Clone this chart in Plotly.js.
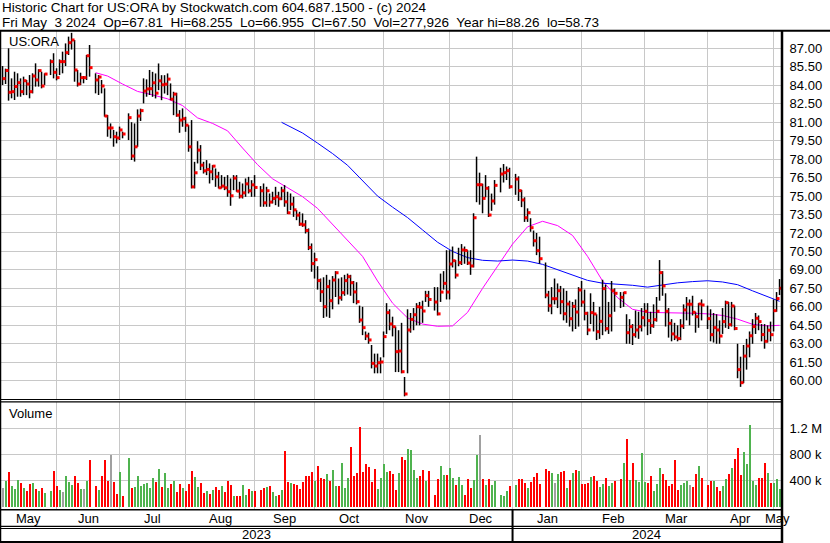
<!DOCTYPE html>
<html><head><meta charset="utf-8">
<script src="https://cdn.plot.ly/plotly-3.0.1.min.js"></script>
<style>html,body{margin:0;padding:0;background:#fff;overflow:hidden}#chart{width:830px;height:543px}</style>
</head><body><div id="chart"></div>
<script>
// ---------------- DATA ----------------
const symbol = 'US:ORA';
const headerLine1 = 'Historic Chart for US:ORA by Stockwatch.com 604.687.1500 - (c) 2024';
const headerLine2 = 'Fri May\u00a0 3 2024\u00a0 Op=67.81\u00a0 Hi=68.255\u00a0 Lo=66.955\u00a0 Cl=67.50\u00a0 Vol=277,926\u00a0 Year hi=88.26\u00a0 lo=58.73';
const startDate = '2023-05-08';
const endDate = '2024-05-03';
const holidays = ['2023-05-29','2023-06-19','2023-07-04','2023-09-04','2023-11-23','2023-12-25','2024-01-01','2024-01-15','2024-02-19','2024-03-29'];

const close = [
 84.54,85.2,83.43,83.48,83.9,84.21,83.48,84.37,84.1,83.48,84.75,84.43,85.19,83.94,84.91,85.92,85.05,
 84.62,85.92,85.92,86.65,87.46,87.68,85.24,84.1,84.62,84.62,86.4,85.43,84.43,84.67,83.94,81.5,80.53,80.53,79.82,79.72,80.37,
 80.04,81.37,78.25,79.0,81.5,81.94,83.53,83.7,83.72,84.2,83.36,84.36,84.04,84.09,84.5,82.87,83.28,81.57,81.17,81.28,
 80.76,79.0,75.75,76.89,78.73,77.51,77.05,77.16,76.97,77.43,76.56,75.67,75.81,75.67,75.35,75.02,76.46,75.4,74.99,75.26,75.99,75.43,75.91,
 75.7,75.43,74.45,75.43,74.51,74.8,74.94,74.78,75.43,74.53,73.64,74.34,73.88,73.45,72.72,72.66,72.2,70.82,69.51,69.83,
 68.13,67.23,66.01,67.64,66.5,68.18,68.77,66.74,67.15,68.13,68.45,67.96,67.21,66.42,64.93,64.31,63.63,63.31,61.41,61.19,61.46,61.52,
 63.58,65.53,64.61,64.39,62.36,62.41,60.73,58.92,64.12,64.98,65.36,66.01,65.96,65.66,66.91,66.6,66.39,65.43,67.2,67.91,67.2,
 69.48,69.75,68.58,69.59,70.62,70.58,69.56,69.32,73.24,75.92,75.92,74.81,75.63,73.46,74.6,75.87,76.79,76.9,77.06,75.76,
 76.38,75.44,74.68,73.24,73.65,72.43,71.37,70.56,69.91,66.96,66.09,66.66,66.66,67.31,66.42,65.44,66.23,65.04,66.04,65.58,67.37,
 66.39,65.47,64.12,65.53,65.42,63.98,64.82,67.48,64.23,65.28,67.31,67.1,66.77,67.15,63.9,64.39,63.74,64.12,64.39,65.12,
 65.64,64.88,64.47,64.96,65.64,68.78,67.7,65.64,64.66,63.8,63.55,63.42,64.45,65.75,66.21,66.21,65.56,65.2,66.23,66.15,
 65.04,63.74,64.31,64.12,63.63,64.8,66.34,64.55,66.07,64.24,60.9,59.84,62.0,62.82,63.65,64.4,65.07,64.8,63.75,63.2,64.1,63.74,
 65.69,66.67,67.5
];
const high = [
 85.56,85.35,87.0,84.56,85.1,84.97,84.56,84.7,84.43,84.83,84.97,85.78,85.3,85.1,84.97,86.1,86.6,
 85.38,86.1,86.73,87.4,87.95,88.26,87.68,85.24,85.02,84.75,86.46,87.27,84.97,84.83,84.43,83.75,81.58,80.9,80.37,80.23,80.64,
 80.23,81.72,81.0,80.9,82.04,82.1,84.56,84.48,85.24,85.09,84.96,85.77,84.82,84.82,84.96,84.15,83.47,83.39,81.98,82.12,
 81.44,80.76,81.17,77.78,79.46,79.14,77.78,77.92,77.65,77.51,77.24,76.97,76.7,76.56,76.7,76.43,76.7,76.7,76.16,76.02,76.43,76.56,76.29,
 76.7,75.81,76.02,75.75,75.21,75.35,75.75,75.35,75.75,75.89,75.35,75.21,74.94,73.86,73.72,73.59,73.04,72.37,71.15,70.4,
 69.3,68.3,68.4,68.6,68.2,68.5,68.9,68.3,68.4,68.6,68.7,68.6,68.1,68.0,66.1,66.0,64.0,63.9,62.9,62.2,62.2,61.9,
 64.0,66.3,65.8,65.2,64.4,64.1,64.7,60.3,65.8,65.5,65.9,66.3,66.4,66.5,67.3,67.3,67.6,67.6,68.7,68.9,70.6,
 70.6,70.9,69.8,70.8,71.1,70.9,70.6,70.6,73.6,78.2,76.9,76.0,76.7,75.8,75.2,76.3,77.3,77.6,77.4,77.3,
 76.8,76.6,75.5,74.9,74.0,73.2,72.2,72.0,71.7,69.6,67.3,67.6,68.3,67.9,67.7,67.5,67.3,66.5,66.4,66.6,67.6,
 68.1,67.4,65.6,67.1,66.4,65.4,66.0,68.2,67.8,66.4,68.1,67.5,67.2,67.2,65.4,65.0,64.6,65.7,65.6,65.9,
 66.3,66.3,65.6,66.2,66.8,69.8,68.9,67.1,65.9,65.0,64.7,64.5,65.0,66.2,66.8,66.6,66.9,65.6,66.3,66.6,
 66.1,65.8,65.5,65.4,64.9,65.9,66.5,66.4,66.4,66.1,63.0,61.95,62.9,63.4,64.0,65.0,65.5,65.3,64.6,64.6,64.5,64.8,
 66.6,67.2,68.255
];
const low = [
 84.02,84.1,82.75,82.94,82.8,83.07,83.07,83.2,83.2,82.94,83.34,83.89,83.89,83.75,84.02,84.83,84.56,
 84.4,84.83,84.97,85.56,86.46,86.9,84.29,83.89,84.02,84.16,84.43,84.7,83.34,83.21,83.34,81.45,79.82,79.69,79.01,79.28,79.55,
 79.69,79.55,77.93,77.8,79.0,81.1,82.53,83.07,83.21,83.06,82.93,83.6,82.79,83.33,83.2,82.79,81.57,81.44,80.14,80.63,
 80.22,78.6,75.62,75.62,77.65,77.11,76.83,76.7,76.02,76.29,75.75,75.62,75.62,75.48,74.94,74.21,75.48,75.35,74.8,74.8,74.94,75.21,74.94,
 74.94,74.13,74.13,74.13,74.13,74.4,74.26,74.13,74.67,74.13,73.54,73.86,73.31,73.04,72.58,72.5,71.96,70.61,68.85,68.3,
 67.4,66.4,65.1,65.2,65.1,65.8,66.8,66.2,66.5,66.9,67.0,66.9,66.3,66.2,64.7,63.7,63.3,63.0,61.0,60.6,60.6,60.6,
 61.9,63.8,64.1,63.6,60.7,60.7,60.6,58.73,60.6,63.9,64.1,64.5,64.5,64.7,66.4,66.0,65.7,65.3,66.4,67.4,66.6,
 66.6,69.2,68.3,69.3,69.4,69.5,69.4,68.6,69.2,74.5,74.3,73.6,74.9,73.3,73.8,74.3,75.3,76.1,76.3,75.6,
 75.1,74.6,74.1,72.9,72.9,72.1,70.9,70.2,69.5,66.7,65.6,65.4,66.2,65.9,65.4,64.9,64.7,64.4,64.0,64.2,64.4,
 66.0,64.9,63.7,64.6,64.0,63.3,63.4,63.7,64.0,63.8,64.0,65.6,65.9,66.0,63.0,63.0,62.9,63.5,63.4,64.0,
 64.4,63.7,63.8,64.3,64.8,66.5,66.9,64.4,63.5,63.2,63.3,63.2,63.3,64.2,64.9,64.5,65.3,63.9,64.3,64.9,
 64.2,63.2,63.1,63.0,63.0,63.8,64.3,64.2,64.4,64.1,60.2,59.5,59.8,60.9,61.9,63.0,63.8,64.1,63.2,62.6,63.1,63.2,
 64.0,65.6,66.955
];
const volumeThousands = [
 296,397,535,321,275,408,367,290,245,352,367,275,245,290,214,245,550,
 321,260,229,474,382,336,474,367,275,275,397,719,321,260,474,719,397,795,382,199,535,
 168,749,290,306,474,321,352,367,290,443,382,581,306,520,290,352,397,229,352,290,
 245,352,550,459,306,367,214,245,199,260,306,260,321,229,397,336,168,168,168,336,183,275,245,
 245,260,290,306,321,229,168,183,260,856,382,367,352,336,275,382,474,474,535,397,
 627,443,428,504,397,566,321,321,673,290,443,917,474,520,1223,535,657,612,382,581,275,443,
 657,535,550,504,260,520,764,719,887,871,566,448,479,566,397,550,183,428,627,489,489,
 596,443,336,459,336,183,428,290,413,795,1101,428,336,428,336,397,183,168,245,321,
 336,428,428,367,290,382,459,520,352,581,550,520,367,504,535,550,290,413,520,566,550,
 352,352,367,459,474,397,306,352,443,321,367,397,428,673,1040,413,673,413,377,826,
 382,367,474,245,352,596,504,413,321,352,719,260,336,367,397,336,306,504,627,443,
 336,397,397,306,245,321,428,504,596,734,902,489,841,657,1254,397,336,443,443,673,520,367,
 367,428,278
];

// moving averages (weekly samples)
const maFastDates = ['2023-06-20','2023-06-26','2023-07-03','2023-07-10','2023-07-17','2023-07-24','2023-07-31','2023-08-07','2023-08-14','2023-08-21','2023-08-28','2023-09-04','2023-09-11','2023-09-18','2023-09-25','2023-10-02','2023-10-09','2023-10-16','2023-10-23','2023-10-30','2023-11-06','2023-11-13','2023-11-20','2023-11-27','2023-12-04','2023-12-11','2023-12-18','2023-12-25','2024-01-01','2024-01-08','2024-01-15','2024-01-22','2024-01-29','2024-02-05','2024-02-12','2024-02-19','2024-02-26','2024-03-04','2024-03-11','2024-03-18','2024-03-25','2024-04-01','2024-04-08','2024-04-15','2024-04-22','2024-04-29','2024-05-03'];
const maFastValues = [85.02,84.75,84.1,83.5,83.22,82.9,82.35,81.35,80.9,80.3,78.9,77.55,76.4,75.65,74.95,74.0,72.7,71.4,70.1,68.1,66.3,65.1,64.6,64.42,64.45,65.55,67.5,69.3,71.1,72.5,72.95,72.6,71.8,70.1,68.1,66.75,65.8,65.55,65.53,65.55,65.48,65.43,65.3,65.0,64.58,64.45,64.5];
const maSlowDates = ['2023-09-14','2023-09-18','2023-09-25','2023-10-02','2023-10-09','2023-10-16','2023-10-23','2023-10-30','2023-11-06','2023-11-13','2023-11-20','2023-11-27','2023-12-04','2023-12-11','2023-12-18','2023-12-25','2024-01-01','2024-01-08','2024-01-15','2024-01-22','2024-01-29','2024-02-05','2024-02-12','2024-02-19','2024-02-26','2024-03-04','2024-03-11','2024-03-18','2024-03-25','2024-04-01','2024-04-08','2024-04-15','2024-04-22','2024-04-29','2024-05-03'];
const maSlowValues = [80.99,80.75,80.12,79.3,78.45,77.5,76.25,75.0,74.1,73.25,72.25,71.25,70.5,70.0,69.78,69.72,69.8,69.72,69.45,69.0,68.6,68.15,67.92,67.85,67.75,67.6,67.8,67.95,68.05,68.12,68.02,67.8,67.3,66.8,66.45];

const monthStarts = ['2023-05-01','2023-06-01','2023-07-01','2023-08-01','2023-09-01','2023-10-01','2023-11-01','2023-12-01','2024-01-01','2024-02-01','2024-03-01','2024-04-01','2024-05-01'];
const monthLabels = ['May','Jun','Jul','Aug','Sep','Oct','Nov','Dec','Jan','Feb','Mar','Apr','May'];
const yearStarts = ['2023-05-01','2024-01-01'];
const yearLabels = ['2023','2024'];
const priceTicks = [60.00,61.50,63.00,64.50,66.00,67.50,69.00,70.50,72.00,73.50,75.00,76.50,78.00,79.50,81.00,82.50,84.00,85.50,87.00];
const volumeTicks = [400000,800000,1200000];
const volumeTickText = ['400 k','800 k','1.2 M'];

// ---------------- CALENDAR (weekday slots) ----------------
const DAY = 86400000;
function parse(d){const p=d.split('-').map(Number);return Date.UTC(p[0],p[1]-1,p[2]);}
const t0 = parse(startDate);
function slotOf(d){const days=Math.round((parse(d)-t0)/DAY);const w=Math.floor(days/7);const dow=days-7*w;return w*5+Math.min(dow,4);}
function fmt(t){return new Date(t).toISOString().slice(0,10);}
const tradingDates=[];
for(let t=t0;t<=parse(endDate);t+=DAY){const dw=new Date(t).getUTCDay();if(dw===0||dw===6)continue;const s=fmt(t);if(holidays.includes(s))continue;tradingDates.push(s);}
if(close.length!==tradingDates.length||high.length!==tradingDates.length||low.length!==tradingDates.length||volumeThousands.length!==tradingDates.length){
  throw new Error('length mismatch dates='+tradingDates.length+' close='+close.length+' high='+high.length+' low='+low.length+' vol='+volumeThousands.length);
}
const xs = tradingDates.map(slotOf);

// ---------------- GEOMETRY ----------------
const W=830,H=543, ML=0, MR=49, MT=31, MB=34;
const PW=W-ML-MR, PH=H-MT-MB;
const XMIN=-0.85, XMAX=XMIN+PW/3;
const PX = px => (px-ML)/PW;
const PY = py => (H-MB-py)/PH;

// ---------------- TRACES ----------------
const hlX=[], hlY=[];
xs.forEach((x,i)=>{hlX.push(x,x,null);hlY.push(low[i],high[i],null);});
const volColors = close.map((c,i)=> i===0 ? '#a0a0a0' : (c>close[i-1] ? '#4fb34f' : (c<close[i-1] ? '#ff0000' : '#a0a0a0')));

const traces = [
 {type:'scatter',mode:'lines',x:maFastDates.map(slotOf),y:maFastValues,line:{color:'#ff00ff',width:1},xaxis:'x',yaxis:'y',hoverinfo:'skip'},
 {type:'scatter',mode:'lines',x:maSlowDates.map(slotOf),y:maSlowValues,line:{color:'#0000ff',width:1},xaxis:'x',yaxis:'y',hoverinfo:'skip'},
 {type:'scatter',mode:'lines',x:hlX,y:hlY,line:{color:'#000000',width:1.5},connectgaps:false,xaxis:'x',yaxis:'y',hoverinfo:'skip'},
 {type:'scatter',mode:'markers',x:xs.map(x=>x+0.5),y:close,marker:{symbol:'square',size:3,color:'#ff0000',line:{width:0}},xaxis:'x',yaxis:'y',hoverinfo:'skip'},
 {type:'bar',x:xs,y:volumeThousands.map(v=>v*1000),width:0.67,marker:{color:volColors,line:{width:0}},xaxis:'x',yaxis:'y2',hoverinfo:'skip'}
];

// month gridlines & labels
const gridSlots = monthStarts.slice(1).map(slotOf);
const annotations = [];
const font13 = {family:'Liberation Sans, Arial, sans-serif', size:13, color:'#000000'};
const fontHeader = {family:'Liberation Sans, Arial, sans-serif', size:13.5, color:'#000000'};
monthLabels.forEach((m,k)=>{
  const a = Math.max(XMIN, slotOf(monthStarts[k]));
  const b = k+1<monthStarts.length ? slotOf(monthStarts[k+1]) : XMAX;
  annotations.push({xref:'x',yref:'paper',x:(a+Math.min(b,XMAX))/2,y:PY(518.5),text:m,showarrow:false,xanchor:'center',yanchor:'middle',font:font13});
});
yearLabels.forEach((yl,k)=>{
  const a = Math.max(XMIN, slotOf(yearStarts[k]));
  const b = k+1<yearStarts.length ? slotOf(yearStarts[k+1]) : XMAX;
  annotations.push({xref:'x',yref:'paper',x:(a+b)/2,y:PY(534.5),text:yl,showarrow:false,xanchor:'center',yanchor:'middle',font:font13});
});
annotations.push({xref:'paper',yref:'paper',x:PX(1),y:PY(7.4),text:headerLine1,showarrow:false,xanchor:'left',yanchor:'middle',borderpad:0,font:fontHeader});
annotations.push({xref:'paper',yref:'paper',x:PX(1),y:PY(22.6),text:headerLine2,showarrow:false,xanchor:'left',yanchor:'middle',borderpad:0,font:fontHeader});
annotations.push({xref:'paper',yref:'paper',x:PX(7),y:PY(41.5),text:symbol,showarrow:false,xanchor:'left',yanchor:'middle',font:font13});
annotations.push({xref:'paper',yref:'paper',x:PX(7),y:PY(413.5),text:'Volume',showarrow:false,xanchor:'left',yanchor:'middle',font:font13});

const yearDivider = slotOf(yearStarts[1]);
const ln = (x0,y0,x1,y1,w)=>({type:'line',xref:'paper',yref:'paper',x0:PX(x0),y0:PY(y0),x1:PX(x1),y1:PY(y1),line:{color:'#000000',width:w},layer:'above'});
const shapes = [
 ln(0,30.8,830,30.8,2),
 ln(0.5,30,0.5,543,1.5),
 ln(782,30,782,543,2.5),
 ln(0,399.5,781,399.5,1.2),
 ln(0,401.8,781,401.8,1.2),
 ln(0,509.8,781,509.8,1.5),
 ln(0,526.3,781,526.3,1.2),
 ln(0,528.5,781,528.5,1.2),
 ln(0,542,783,542,2),
 {type:'line',xref:'x',yref:'paper',x0:yearDivider,x1:yearDivider,y0:PY(509),y1:PY(543),line:{color:'#000000',width:2},layer:'above'}
];

const layout = {
 width:W,height:H,margin:{l:ML,r:MR,t:MT,b:MB,pad:0},
 paper_bgcolor:'#ffffff',plot_bgcolor:'#ffffff',showlegend:false,
 font:font13, bargap:0, hovermode:false,
 xaxis:{range:[XMIN,XMAX],tickmode:'array',tickvals:gridSlots,showticklabels:false,ticks:'',showgrid:true,gridcolor:'#c8c8c8',gridwidth:1,zeroline:false,showline:false,anchor:'y2',fixedrange:true},
 yaxis:{domain:[PY(399),1],range:[60-(399-380.7)/12.31, 60+(380.7-31)/12.31],side:'right',tickmode:'array',tickvals:priceTicks,ticktext:priceTicks.map(v=>v.toFixed(2)),ticks:'outside',ticklen:5,tickcolor:'rgba(0,0,0,0)',showgrid:true,gridcolor:'#c8c8c8',gridwidth:1,zeroline:false,showline:false,fixedrange:true,tickfont:font13},
 yaxis2:{domain:[0,PY(402)],range:[-(509-507)*400000/26.2,(507-402)*400000/26.2],side:'right',tickmode:'array',tickvals:volumeTicks,ticktext:volumeTickText,ticks:'outside',ticklen:5,tickcolor:'rgba(0,0,0,0)',showgrid:true,gridcolor:'#c8c8c8',gridwidth:1,zeroline:false,showline:false,fixedrange:true,tickfont:font13},
 shapes:shapes, annotations:annotations
};
Plotly.newPlot('chart',traces,layout,{displayModeBar:false,staticPlot:true});
</script></body></html>
